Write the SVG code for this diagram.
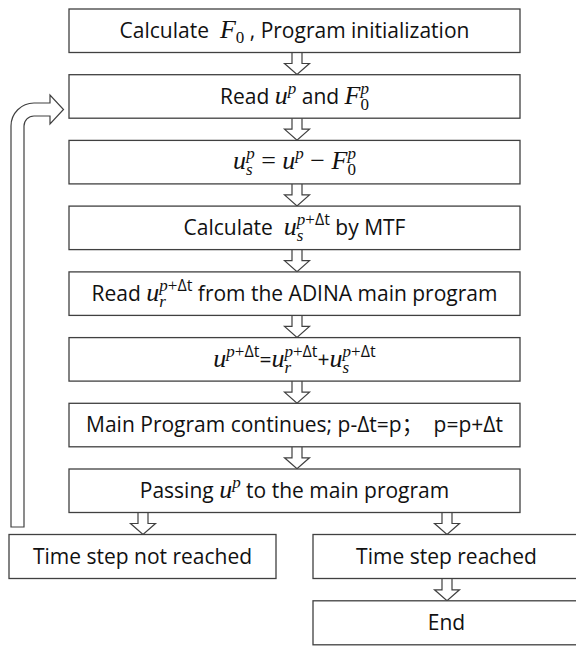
<svg xmlns="http://www.w3.org/2000/svg" xmlns:xlink="http://www.w3.org/1999/xlink" width="576" height="646" viewBox="0 0 576 646">
  <style>
    .box { fill: #ffffff; stroke: #404040; stroke-width: 1.3; }
    .arw { fill: #ffffff; stroke: #404040; stroke-width: 1.2; stroke-linejoin: miter; }
    .t { font-family: "Open Sans", "Noto Sans CJK SC", sans-serif; font-size: 21px; fill: #111111; text-anchor: middle; white-space: pre; }
    .m { font-family: "Liberation Serif", "DejaVu Serif", serif; font-style: italic; font-size: 26px; }
    .u { font-family: "Liberation Serif", "DejaVu Serif", serif; font-style: normal; font-size: 26px; }
    .s { font-size: 17px; }
    .ss { font-family: "Open Sans", sans-serif; font-style: normal; font-size: 16px; }
  </style>
  <defs>
    <!-- hollow block arrow, top of shaft at origin, pointing down (22 px long) -->
    <path id="blk" class="arw" d="M-5,0 V11 H-12.5 L0,22 L12.5,11 H5 V0"/>
  </defs>
  <rect width="576" height="646" fill="#ffffff"/>

  <g id="connectors">
    <use xlink:href="#blk" href="#blk" x="297" y="52.5"/>
    <use xlink:href="#blk" href="#blk" x="297" y="118.2"/>
    <use xlink:href="#blk" href="#blk" x="297" y="183.9"/>
    <use xlink:href="#blk" href="#blk" x="297" y="249.6"/>
    <use xlink:href="#blk" href="#blk" x="297" y="315.4"/>
    <use xlink:href="#blk" href="#blk" x="297" y="381.1"/>
    <use xlink:href="#blk" href="#blk" x="297" y="446.8"/>
    <use xlink:href="#blk" href="#blk" x="143" y="512.5"/>
    <use xlink:href="#blk" href="#blk" x="447" y="512.5"/>
    <use xlink:href="#blk" href="#blk" x="447" y="578.8"/>
    <!-- loop back: bent hollow arrow into "Read" step -->
    <path class="arw" d="M11,527 V126 A23,23 0 0 1 34,103 H50 V95 L63.5,109.5 L50,124 V116 H34 A10,10 0 0 0 24,126 V527 Z"/>
  </g>

  <g id="init">
    <rect class="box" x="69" y="9" width="451" height="43.5"/>
    <text class="t" x="294.5" y="38.3">Calculate  <tspan class="m">F</tspan><tspan class="u s" dy="5">0</tspan><tspan dy="-5"> , Program initialization</tspan></text>
  </g>

  <g id="read-up">
    <rect class="box" x="69" y="74.7" width="451" height="43.5"/>
    <text class="t" x="294.5" y="104.3">Read <tspan class="m">u</tspan><tspan class="m s" dy="-10">p</tspan><tspan dy="10"> and </tspan><tspan class="m">F</tspan><tspan class="u s" dy="6">0</tspan><tspan class="m s" dx="-8.5" dy="-16">p</tspan></text>
  </g>

  <g id="us">
    <rect class="box" x="69" y="140.4" width="451" height="43.5"/>
    <text class="t" x="294.5" y="169.3"><tspan class="m">u</tspan><tspan class="m s" dy="6">s</tspan><tspan class="m s" dx="-6.6" dy="-16">p</tspan><tspan class="u" dy="10"> = </tspan><tspan class="m">u</tspan><tspan class="m s" dy="-10">p</tspan><tspan class="u" dy="10"> − </tspan><tspan class="m">F</tspan><tspan class="u s" dy="6">0</tspan><tspan class="m s" dx="-8.5" dy="-16">p</tspan></text>
  </g>

  <g id="mtf">
    <rect class="box" x="69" y="206.1" width="451" height="43.5"/>
    <text class="t" x="294.5" y="235.3">Calculate  <tspan class="m">u</tspan><tspan class="m s" dy="6">s</tspan><tspan class="s" dx="-6.6" dy="-16"><tspan class="m s">p</tspan><tspan class="u s">+</tspan><tspan class="ss">Δt</tspan></tspan><tspan dy="10"> by MTF</tspan></text>
  </g>

  <g id="read-ur">
    <rect class="box" x="69" y="271.9" width="451" height="43.5"/>
    <text class="t" x="294.5" y="301.3">Read <tspan class="m">u</tspan><tspan class="m s" dy="6">r</tspan><tspan class="s" dx="-6.6" dy="-16"><tspan class="m s">p</tspan><tspan class="u s">+</tspan><tspan class="ss">Δt</tspan></tspan><tspan dy="10"> from the ADINA main program</tspan></text>
  </g>

  <g id="sum">
    <rect class="box" x="69" y="337.6" width="451" height="43.5"/>
    <text class="t" x="294.5" y="367.3"><tspan class="m">u</tspan><tspan class="s" dy="-10"><tspan class="m s">p</tspan><tspan class="u s">+</tspan><tspan class="ss">Δt</tspan></tspan><tspan dy="10">=</tspan><tspan class="m">u</tspan><tspan class="m s" dy="6">r</tspan><tspan class="s" dx="-6.6" dy="-16"><tspan class="m s">p</tspan><tspan class="u s">+</tspan><tspan class="ss">Δt</tspan></tspan><tspan dy="10">+</tspan><tspan class="m">u</tspan><tspan class="m s" dy="6">s</tspan><tspan class="s" dx="-6.6" dy="-16"><tspan class="m s">p</tspan><tspan class="u s">+</tspan><tspan class="ss">Δt</tspan></tspan></text>
  </g>

  <g id="continue">
    <rect class="box" x="69" y="403.3" width="451" height="43.5"/>
    <text class="t" x="294.5" y="432.3">Main Program continues; p-Δt=p；  p=p+Δt</text>
  </g>

  <g id="pass">
    <rect class="box" x="69" y="469" width="451" height="43.5"/>
    <text class="t" x="294.5" y="498.3">Passing <tspan class="m">u</tspan><tspan class="m s" dy="-10">p</tspan><tspan dy="10"> to the main program</tspan></text>
  </g>

  <g id="not-reached">
    <rect class="box" x="9" y="534.5" width="267" height="44"/>
    <text class="t" x="142.5" y="563.8">Time step not reached</text>
  </g>

  <g id="reached">
    <rect class="box" x="313" y="534.5" width="270" height="44"/>
    <text class="t" x="446.5" y="563.8">Time step reached</text>
  </g>

  <g id="end">
    <rect class="box" x="313" y="600.8" width="270" height="44"/>
    <text class="t" x="446.5" y="630.3">End</text>
  </g>
</svg>
